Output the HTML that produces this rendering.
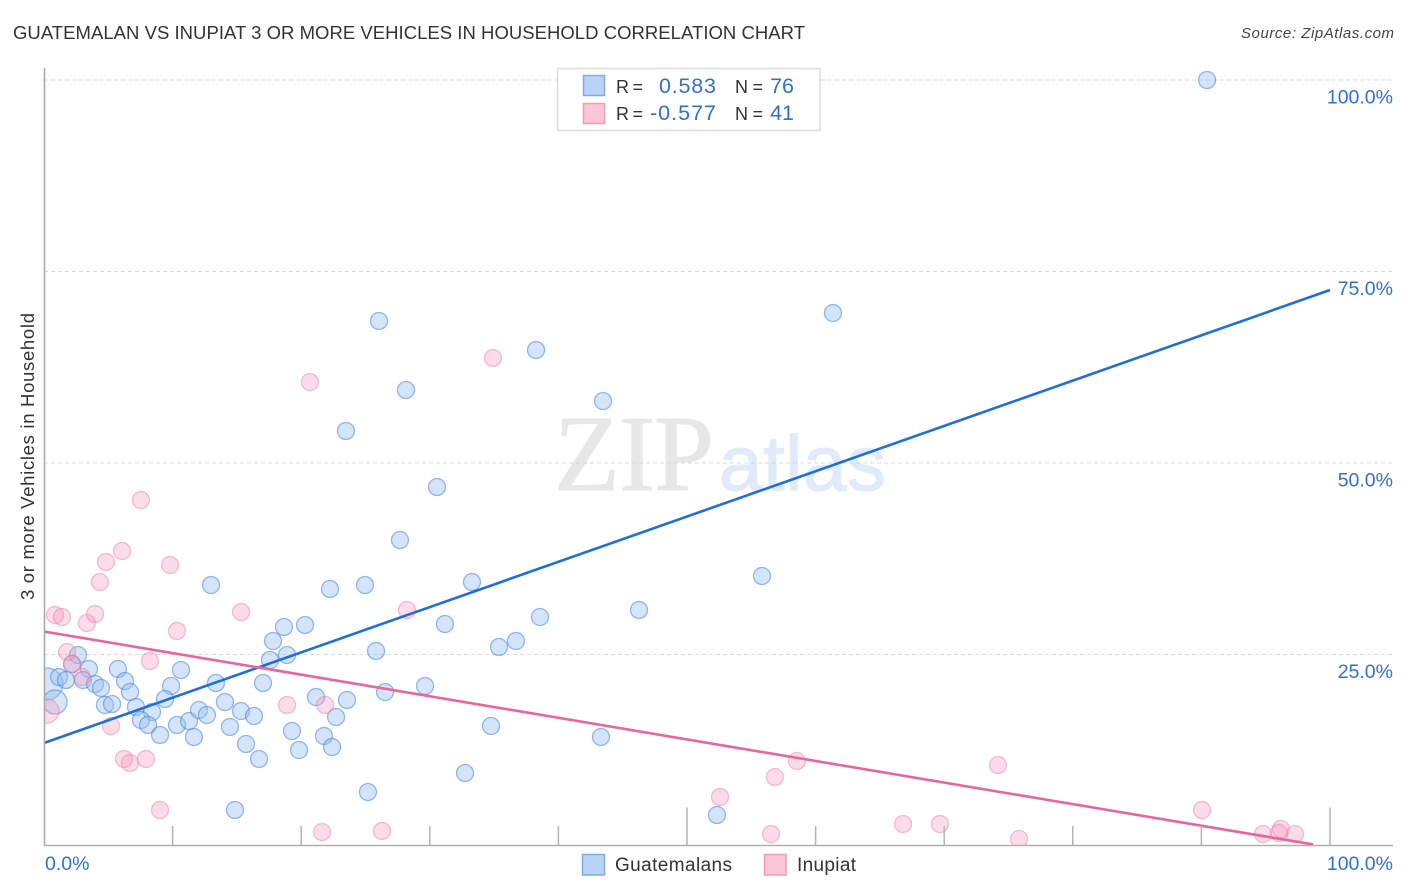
<!DOCTYPE html>
<html lang="en">
<head>
<meta charset="utf-8">
<title>Guatemalan vs Inupiat 3 or More Vehicles in Household Correlation Chart</title>
<style>
html,body{margin:0;padding:0;background:#fff;}
body{width:1406px;height:892px;overflow:hidden;}
svg{display:block;font-family:"Liberation Sans",sans-serif;}
</style>
</head>
<body>
<svg id="chart" width="1406" height="892" viewBox="0 0 1406 892" xmlns="http://www.w3.org/2000/svg">
  <defs>
    <clipPath id="plot-clip"><rect x="44" y="60" width="1362" height="786"></rect></clipPath>
  </defs>
  <rect x="0" y="0" width="1406" height="892" fill="#ffffff"></rect>
  <text x="13" y="39" font-size="18.5" fill="#333333" textLength="792">GUATEMALAN VS INUPIAT 3 OR MORE VEHICLES IN HOUSEHOLD CORRELATION CHART</text>
  <text x="1241" y="38" font-size="15" font-style="italic" fill="#444444" textLength="153">Source: ZipAtlas.com</text>
  <g>
    <text x="554" y="490" font-family="'Liberation Serif',serif" font-size="108" fill="#e7e7e7" stroke="#e7e7e7" stroke-width="1" textLength="160">ZIP</text>
    <text x="719" y="490" font-size="78" fill="#e0eafa" stroke="#e0eafa" stroke-width="1.2" textLength="167">atlas</text>
  </g>
  <g id="grid"></g>
  <g id="points" clip-path="url(#plot-clip)"></g>
  <g id="trends"></g>
  <g id="axes"></g>
  <text transform="translate(34 456.5) rotate(-90)" font-size="18.5" fill="#333333" text-anchor="middle" textLength="287">3 or more Vehicles in Household</text>

  <g>
    <rect x="557.5" y="68.5" width="262.5" height="62" fill="#ffffff" stroke="#dddddd" stroke-width="1.5"></rect>
    <rect x="583.5" y="75.5" width="21" height="20" fill="#b9d3f8" stroke="#7fabea" stroke-width="1.5"></rect>
    <rect x="583.5" y="103.5" width="21" height="20" fill="#fcc6d8" stroke="#f09ab8" stroke-width="1.5"></rect>
    <text x="616" y="93" font-size="18" fill="#333333" textLength="27">R =</text>
    <text x="659" y="93" font-size="21.5" fill="#3170d2" textLength="57">0.583</text>
    <text x="735" y="93" font-size="18" fill="#333333" textLength="28">N =</text>
    <text x="794" y="93" font-size="21.5" fill="#3170d2" text-anchor="end">76</text>
    <text x="616" y="120" font-size="18" fill="#333333" textLength="27">R =</text>
    <text x="650" y="120" font-size="21.5" fill="#3170d2" textLength="66">-0.577</text>
    <text x="735" y="120" font-size="18" fill="#333333" textLength="28">N =</text>
    <text x="794" y="120" font-size="21.5" fill="#3170d2" text-anchor="end">41</text>
  </g>

  <g>
    <rect x="582.5" y="854.5" width="22" height="20.5" fill="#b9d3f8" stroke="#7fabea" stroke-width="1.5"></rect>
    <text x="615" y="871" font-size="19" fill="#333333" textLength="117">Guatemalans</text>
    <rect x="764.5" y="854.5" width="21.5" height="20.5" fill="#fcc6d8" stroke="#f09ab8" stroke-width="1.5"></rect>
    <text x="797" y="871" font-size="19" fill="#333333" textLength="59">Inupiat</text>
  </g>
</svg>
<script>
const yTickValues = [25, 50, 75, 100];
const yTickLabels = ["25.0%", "50.0%", "75.0%", "100.0%"];
const xTickValues = [10, 20, 30, 40, 50, 60, 70, 80, 90, 100];
const xMajorTicks = [50, 100];
const xEndValues = [0, 100];
const xEndLabels = ["0.0%", "100.0%"];

const guatemalanX = [2.64,2.18,3.50,5.75,10.65,0.23,1.17,1.71,3.03,3.97,4.43,6.30,6.69,9.88,13.37,17.03,17.81,18.66,20.30,18.90,17.57,0.86,4.74,5.29,7.15,8.40,9.41,7.54,8.09,9.02,10.34,11.28,12.05,12.67,11.66,14.07,15.32,16.33,14.46,15.71,16.72,14.85,21.15,23.56,22.71,19.28,19.83,21.77,22.40,26.05,61.35,38.26,28.15,43.47,23.48,30.56,27.68,55.83,12.99,22.24,24.96,33.28,46.27,38.57,31.18,36.70,35.38,25.82,29.63,26.52,34.76,43.31,32.74,25.19,52.33,90.44];
const guatemalanY = [24.93,23.76,23.11,23.11,22.98,21.15,22.06,21.67,21.67,21.15,20.63,21.54,20.10,20.89,21.28,21.28,26.76,28.59,28.85,24.93,24.28,18.80,18.41,18.54,18.15,17.49,19.19,16.45,15.80,14.49,15.80,16.32,17.75,17.10,14.23,18.80,17.62,16.97,15.54,13.32,11.36,4.70,19.45,19.06,16.84,15.01,12.53,14.36,12.92,68.54,69.58,64.75,59.53,58.09,54.18,46.87,39.95,35.25,34.07,33.55,34.07,34.46,30.81,29.90,28.98,26.76,25.98,25.46,20.89,20.10,15.67,14.23,9.53,7.05,4.05,100.0];
const inupiatX = [0.86,1.40,3.34,3.97,15.32,10.34,1.79,8.24,2.18,2.95,0.23,5.21,6.22,6.69,7.93,9.02,18.90,21.85,21.62,34.91,20.68,7.54,4.82,6.07,9.80,4.35,28.23,26.28,58.55,56.84,74.18,52.57,56.53,66.80,69.67,75.82,90.05,94.79,96.19,96.03,97.28];
const inupiatY = [30.16,29.90,29.11,30.29,30.55,28.07,25.33,24.15,23.76,22.06,17.62,15.67,11.36,10.84,11.36,4.70,18.41,18.41,1.83,63.71,60.57,45.17,37.08,38.51,36.68,34.46,30.81,1.96,11.10,9.01,10.57,6.40,1.57,2.87,2.87,0.91,4.70,1.57,2.22,1.70,1.57];
const guatemalanWeights = {5: 3.55, 21: 2.0};
const inupiatWeights = {10: 2.0};

const guatemalanTrendX = [0, 100];
const guatemalanTrendY = [13.45, 72.58];
const inupiatTrendX = [0, 98.7];
const inupiatTrendY = [28.0, 0.2];

const svgNS = "http://www.w3.org/2000/svg";
function xScale(v) { return 44 + v * 12.86; }
function yScale(v) { return 846 - v * 7.66; }
function radius(w) { return 8.5 * Math.sqrt(w); }
function make(tag, attrs, parent) {
  const el = document.createElementNS(svgNS, tag);
  for (const k in attrs) el.setAttribute(k, attrs[k]);
  parent.appendChild(el);
  return el;
}

const gridG = document.getElementById("grid");
const axesG = document.getElementById("axes");
const pointsG = document.getElementById("points");
const trendsG = document.getElementById("trends");

yTickValues.forEach(function (v, i) {
  const line = make("line", {x1: 44, x2: 1393, y1: yScale(v), y2: yScale(v), stroke: "#d9d9d9", "stroke-width": 1, "stroke-dasharray": "4 3"}, gridG);
  
  
  const t = make("text", {x: 1393, y: yScale(v) + 23.5, "font-size": 19.5, fill: "#3170d2", "text-anchor": "end"}, axesG);
  t.textContent = yTickLabels[i];
  
  
});

const yAxis = make("line", {x1: 44.5, x2: 44.5, y1: 68, y2: 846, stroke: "#aaaaaa", "stroke-width": 1.6}, axesG);


const xAxis = make("line", {x1: 44, x2: 1393, y1: 845.5, y2: 845.5, stroke: "#b0b0b0", "stroke-width": 1.6}, axesG);



xTickValues.forEach(function (v) {
  const top = xMajorTicks.indexOf(v) >= 0 ? 807.5 : 826;
  const tick = make("line", {x1: xScale(v), x2: xScale(v), y1: top, y2: 845, stroke: "#b4b4b4", "stroke-width": 1.5}, axesG);
  
  
});

xEndValues.forEach(function (v, i) {
  const t = make("text", {x: i === 0 ? xScale(v) + 1 : 1393, y: 870, "font-size": 19.5, fill: "#3170d2", "text-anchor": i === 0 ? "start" : "end"}, axesG);
  t.textContent = xEndLabels[i];
  
  
});

guatemalanX.forEach(function (v, i) {
  const w = guatemalanWeights[i] || 1;
  const c = make("circle", {cx: xScale(v), cy: yScale(guatemalanY[i]), r: radius(w), fill: "rgba(150,190,240,0.40)", stroke: "rgba(70,130,220,0.55)", "stroke-width": 1.3}, pointsG);
  
  
});

inupiatX.forEach(function (v, i) {
  const w = inupiatWeights[i] || 1;
  const c = make("circle", {cx: xScale(v), cy: yScale(inupiatY[i]), r: radius(w), fill: "rgba(245,150,185,0.33)", stroke: "rgba(235,130,170,0.5)", "stroke-width": 1.3}, pointsG);
  
  
});

const blueTrend = make("line", {x1: xScale(guatemalanTrendX[0]), y1: yScale(guatemalanTrendY[0]), x2: xScale(guatemalanTrendX[1]), y2: yScale(guatemalanTrendY[1]), stroke: "#1f6fd8", "stroke-width": 2.6}, trendsG);


const pinkTrend = make("line", {x1: xScale(inupiatTrendX[0]), y1: yScale(inupiatTrendY[0]), x2: xScale(inupiatTrendX[1]), y2: yScale(inupiatTrendY[1]), stroke: "#e9659a", "stroke-width": 2.6}, trendsG);


</script>
</body>
</html>
